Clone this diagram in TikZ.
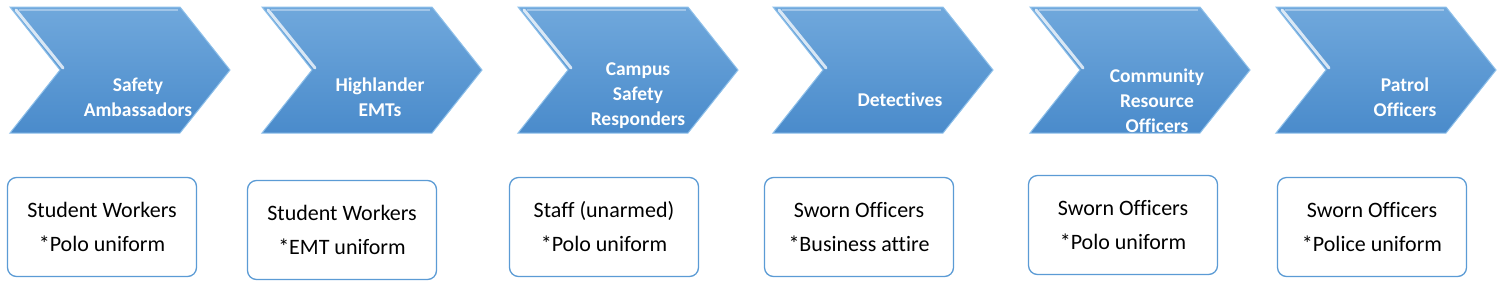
\documentclass[tikz,border=0pt]{standalone}
\usepackage{fontspec}
\setmainfont{Carlito}[Ligatures=CommonOff]
\usepackage{xcolor}
\definecolor{ChevTop}{HTML}{70A8DC}
\definecolor{ChevBot}{HTML}{4A8BCB}
\definecolor{ChevEdge}{HTML}{8EC0EA}
\definecolor{BoxLine}{HTML}{5B9BD5}
\usetikzlibrary{positioning}

\tikzset{
  chevron/.style={top color=ChevTop, bottom color=ChevBot, draw=ChevEdge, line width=1pt},
  chevlabel/.style={text=white, align=center,
    font=\bfseries\fontsize{19.5}{25}\selectfont},
  rolebox/.style={draw=BoxLine, line width=1.3pt, rounded corners=9pt, fill=white,
    minimum width=189pt, minimum height=99pt, align=center,
    font=\fontsize{22}{34}\selectfont}
}

\begin{document}
\begin{tikzpicture}[x=1pt, y=-1pt]
\useasboundingbox (0,0) rectangle (1506,290);

% the six role chevrons
\foreach \lx/\tx/\ty/\nm/\txt in {
    10/128/97/ambas/{Safety\\Ambassadors},
    262/118/97/emts/{Highlander\\EMTs},
    518/120/96/csr/{Campus\\Safety\\Responders},
    773/127/100/detect/{Detectives},
    1030/127/101/cro/{Community\\Resource\\Officers},
    1276/129/97/patrol/{Patrol\\Officers}} {
  \shade[chevron] (\lx,7) -- ++(170,0) -- ++(50,63) -- ++(-50,63)
    -- ++(-170,0) -- ++(50,-63) -- cycle;
  \draw[white, opacity=0.75, line width=3pt, line cap=round]
    (\lx+6,10) -- (\lx+53,68);
  \draw[white, opacity=0.35, line width=2pt]
    (\lx+9,10) -- (\lx+168,10);
  \node[chevlabel] (\nm) at (\lx+\tx,\ty) {\txt};
}

% what each role wears
\node[rolebox] (ambasbox)  at (102,227)  {Student Workers\\*Polo uniform};
\node[rolebox] (emtsbox)   at (342,230)  {Student Workers\\*EMT uniform};
\node[rolebox] (csrbox)    at (604,227)  {Staff (unarmed)\\*Polo uniform};
\node[rolebox] (detectbox) at (859,227)  {Sworn Officers\\*Business attire};
\node[rolebox] (crobox)    at (1123,225) {Sworn Officers\\*Polo uniform};
\node[rolebox] (patrolbox) at (1372,227) {Sworn Officers\\*Police uniform};
\end{tikzpicture}
\end{document}
